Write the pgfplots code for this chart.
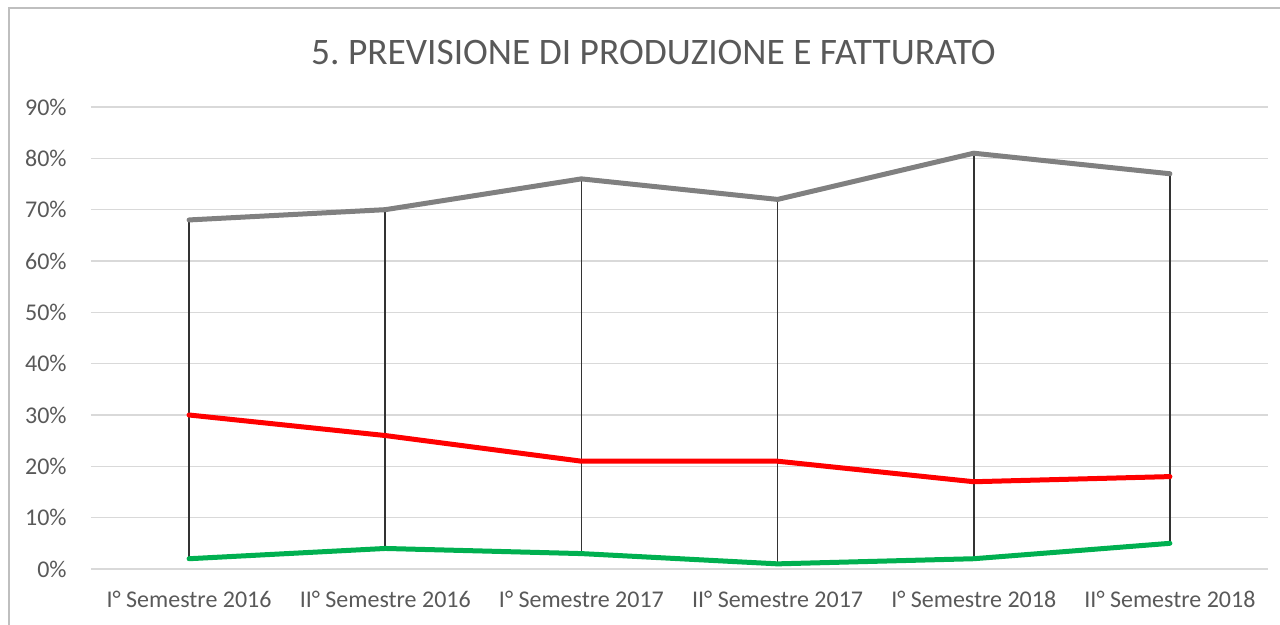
\documentclass[border=0pt]{standalone}
\usepackage{fontspec}
\setmainfont{Carlito}
\usepackage{pgfplots}
\usepackage{pgfplotstable}
\pgfplotsset{compat=1.18}

\definecolor{txt}{HTML}{595959}
\definecolor{gridc}{HTML}{D9D9D9}
\definecolor{sgray}{HTML}{808080}
\definecolor{sred}{HTML}{FF0000}
\definecolor{sgreen}{HTML}{00B050}
\definecolor{frame}{HTML}{BFBFBF}

% x: 0..5 = semesters 2016-2018
\pgfplotstableread{
x gray red green
0 68 30 2
1 70 26 4
2 76 21 3
3 72 21 1
4 81 17 2
5 77 18 5
}\datatable

\begin{document}
\frenchspacing
\begin{tikzpicture}
\useasboundingbox (-45.5pt,-28pt) rectangle (594.5pt,284.5pt);
\draw[frame, line width=0.75pt] (-41pt,-40pt) -- (-41pt,280.5pt) -- (620pt,280.5pt);
\node[anchor=base, text=txt, font=\fontsize{18.7}{22}\selectfont] at (281.25pt,252pt)
  {5. PREVISIONE DI PRODUZIONE E FATTURATO};
\begin{axis}[
  at={(0,0)}, anchor=south west,
  scale only axis,
  width=588.5pt, height=231pt,
  xmin=-0.5, xmax=5.5,
  ymin=0, ymax=90,
  ytick={0,10,...,90},
  yticklabel={\pgfmathprintnumber{\tick}\%},
  xtick={0,...,5},
  xticklabels={I° Semestre 2016, II° Semestre 2016, I° Semestre 2017, II° Semestre 2017, I° Semestre 2018, II° Semestre 2018},
  axis line style={draw=none},
  tick style={draw=none},
  ymajorgrids,
  grid style={gridc, line width=0.75pt},
  ticklabel style={text=txt, font=\fontsize{12}{14}\selectfont},
  yticklabel style={inner sep=0pt, anchor=east, xshift=-12pt},
  xticklabel style={inner sep=0pt, anchor=base, yshift=-19.5pt},
  /pgf/number format/assume math mode=true,
  clip=false,
]
% high-low lines from lowest to highest series
\addplot[draw=none, mark=none, forget plot,
  error bars/.cd, y dir=minus, y explicit, error mark=none,
  error bar style={black!80, line width=0.9pt}]
  table[x=x, y=gray, y error minus expr=\thisrow{gray}-\thisrow{green}] {\datatable};
\addplot[sgray, line width=2.5pt, line join=round, line cap=round] table[x=x, y=gray] {\datatable};
\addplot[sred, line width=2.5pt, line join=round, line cap=round] table[x=x, y=red] {\datatable};
\addplot[sgreen, line width=2.5pt, line join=round, line cap=round] table[x=x, y=green] {\datatable};
\end{axis}
\end{tikzpicture}
\end{document}
